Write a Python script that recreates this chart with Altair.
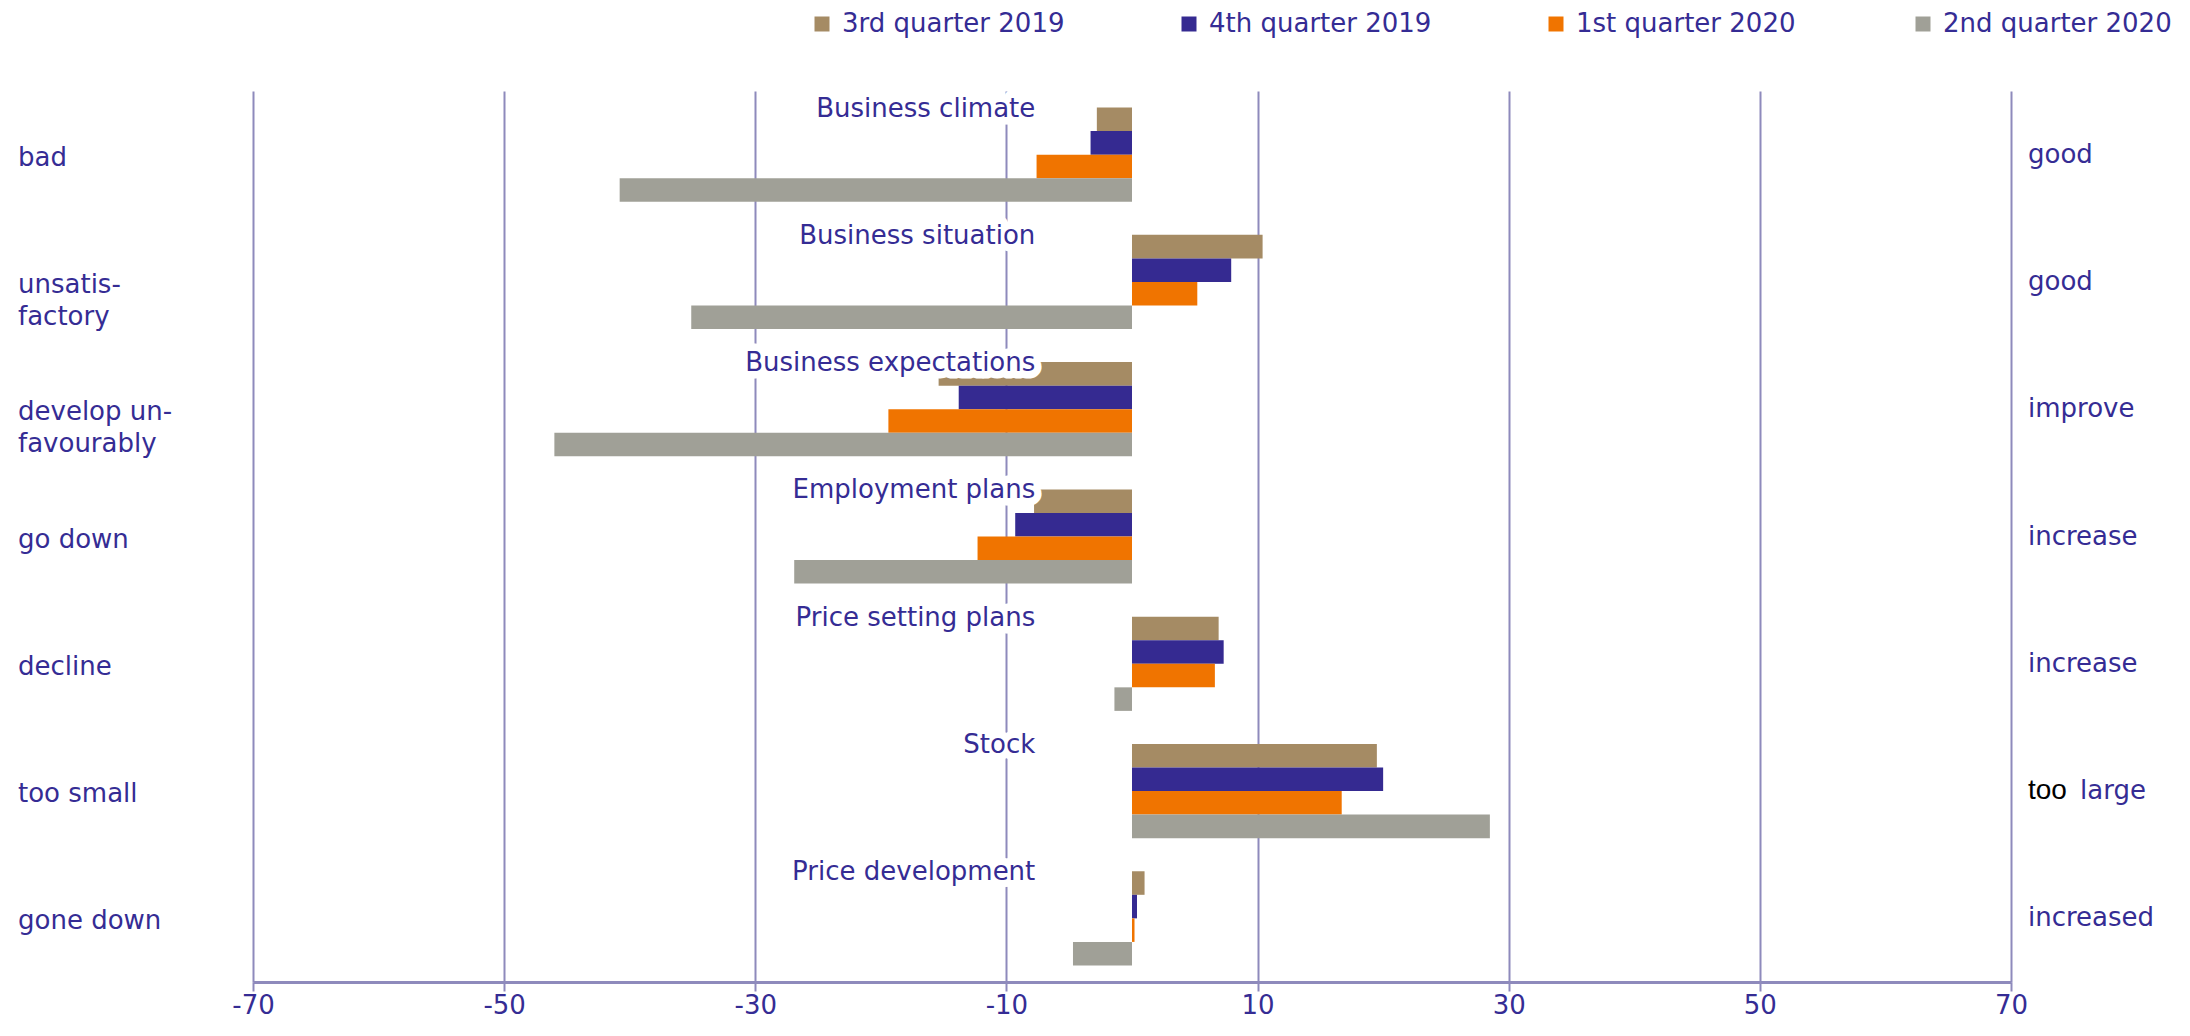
import altair as alt
import pandas as pd

# ---- data ----
categories = ["Business climate", "Business situation", "Business expectations",
              "Employment plans", "Price setting plans", "Stock", "Price development"]
quarters = ["3rd quarter 2019", "4th quarter 2019", "1st quarter 2020", "2nd quarter 2020"]
q3_2019 = [-2.8, 10.4, -15.4, -7.8, 6.9, 19.5, 1.0]
q4_2019 = [-3.3, 7.9, -13.8, -9.3, 7.3, 20.0, 0.4]
q1_2020 = [-7.6, 5.2, -19.4, -12.3, 6.6, 16.7, 0.2]
q2_2020 = [-40.8, -35.1, -46.0, -26.9, -1.4, 28.5, -4.7]
left_labels = ["bad", "unsatis-\nfactory", "develop un-\nfavourably", "go down",
               "decline", "too small", "gone down"]
right_labels = ["good", "good", "improve", "increase", "increase", "", "increased"]
special_prefix = "too"      # shown in black
special_rest = "large"      # shown in blue
special_cat = "Stock"
tick_values = [-70, -50, -30, -10, 10, 30, 50, 70]
colors = ["#A58B64", "#352A91", "#F07400", "#A0A097"]

# ---- styles ----
FONT = "DejaVu Sans"
FS = 26
TXT = "#352C94"
GRID = "#8E8ABC"
LABEL_X = -7.7
W, H = 1758, 891

series = [q3_2019, q4_2019, q1_2020, q2_2020]
rows = []
for q, vals in zip(quarters, series):
    for c, v in zip(categories, vals):
        rows.append({"cat": c, "quarter": q, "value": v})
bars_df = pd.DataFrame(rows)
lab_df = pd.DataFrame({"cat": categories, "left": left_labels, "right": right_labels})
spec_df = pd.DataFrame({"cat": [special_cat], "pre": [special_prefix], "rest": [special_rest]})

yscale = alt.Scale(domain=categories, paddingInner=0.26, paddingOuter=0.13)
xscale = alt.Scale(domain=[-70, 70], nice=False, zero=False)

xaxis = alt.Axis(values=tick_values, labelExpr="'' + datum.value", title=None, grid=True,
                 gridColor=GRID, gridWidth=2, gridOpacity=1,
                 domainColor=GRID, domainWidth=3, tickColor=GRID, tickWidth=2,
                 tickSize=9, labelFont=FONT, labelFontSize=FS, labelColor=TXT,
                 labelPadding=1, labelFlush=False)

bars = alt.Chart(bars_df).mark_bar().encode(
    x=alt.X("value:Q", scale=xscale, axis=xaxis),
    x2=alt.datum(0),
    y=alt.Y("cat:N", scale=yscale, axis=None, sort=categories),
    yOffset=alt.YOffset("quarter:N", sort=quarters,
                        scale=alt.Scale(domain=quarters, paddingInner=0, paddingOuter=0)),
    color=alt.Color("quarter:N", sort=quarters,
                    scale=alt.Scale(domain=quarters, range=colors),
                    legend=alt.Legend(orient="none", legendX=556, legendY=-80,
                                      direction="horizontal", columns=4,
                                      gridAlign="all", columnPadding=105,
                                      symbolType="square", symbolSize=225,
                                      symbolStrokeWidth=0, labelOffset=7,
                                      labelFont=FONT, labelFontSize=FS,
                                      labelColor=TXT, labelLimit=600,
                                      title=None, padding=0)),
)

ycat_top = alt.Y("cat:N", scale=yscale, axis=None, sort=categories, bandPosition=0)
ycat = alt.Y("cat:N", scale=yscale, axis=None, sort=categories)

halo = alt.Chart(lab_df).mark_text(
    align="right", baseline="alphabetic", dy=9, font=FONT, fontSize=FS,
    fill="white", stroke="white", strokeWidth=15, strokeJoin="round"
).encode(x=alt.datum(LABEL_X), y=ycat_top, text="cat:N")

cat_text = alt.Chart(lab_df).mark_text(
    align="right", baseline="alphabetic", dy=9, font=FONT, fontSize=FS, color=TXT
).encode(x=alt.datum(LABEL_X), y=ycat_top, text="cat:N")

left_text = alt.Chart(lab_df).mark_text(
    align="left", baseline="middle", font=FONT, fontSize=FS, color=TXT,
    lineBreak="\n", lineHeight=32, dy=3
).encode(x=alt.value(-235), y=ycat, text="left:N")

right_text = alt.Chart(lab_df).mark_text(
    align="left", baseline="middle", font=FONT, fontSize=FS, color=TXT
).encode(x=alt.value(W + 17), y=ycat, text="right:N")

spec_pre = alt.Chart(spec_df).mark_text(
    align="left", baseline="middle", font="Liberation Sans", fontSize=28, color="black"
).encode(x=alt.value(W + 17), y=ycat, text="pre:N")

spec_rest = alt.Chart(spec_df).mark_text(
    align="left", baseline="middle", font=FONT, fontSize=FS, color=TXT, dx=52
).encode(x=alt.value(W + 17), y=ycat, text="rest:N")

chart = alt.layer(bars, halo, cat_text, left_text, right_text, spec_pre, spec_rest).properties(
    width=W, height=H,
    padding={"left": 245, "top": 83, "right": 171, "bottom": 40},
    autosize=alt.AutoSizeParams(type="none"),
).configure_view(strokeWidth=0)

chart.save("out.html", embed_options={"renderer": "svg", "actions": False})
